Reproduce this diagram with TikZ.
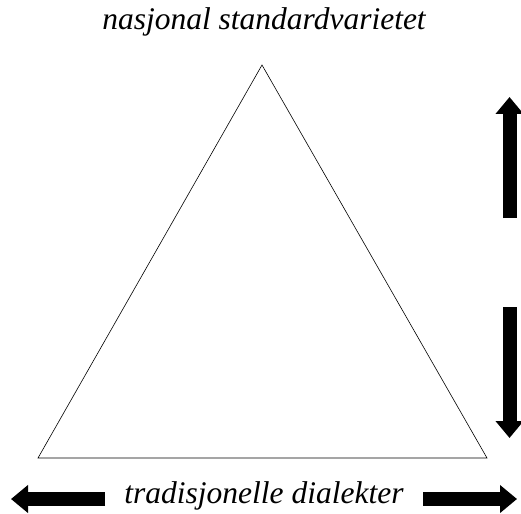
\documentclass[tikz,border=0pt]{standalone}
\usepackage{fontspec}
\setmainfont{Liberation Serif}
\usetikzlibrary{arrows.meta,positioning}

\begin{document}
\begin{tikzpicture}[x=1pt,y=-1pt,line join=miter,
>={Triangle[width=27pt,length=17pt]}]

\tikzstyle{label}=[font=\fontsize{31.5}{36}\selectfont\itshape,inner sep=0pt,anchor=base]
\tikzstyle{fat}=[line width=14pt,->]

\useasboundingbox (0,0) rectangle (521,513);

\coordinate (T) at (262,65);
\coordinate (L) at (38,458);
\coordinate (R) at (487,458);

\node[label] (top)    at (264,30)  {nasjonal standardvarietet};
\node[label] (bottom) at (264,503) {tradisjonelle dialekter};

\coordinate (up0)    at (509.5,218);
\coordinate (up1)    at (509.5,97);
\coordinate (down0)  at (509.5,307);
\coordinate (down1)  at (509.5,438);
\coordinate (left0)  at (105,499);
\coordinate (left1)  at (11,499);
\coordinate (right0) at (423,499);
\coordinate (right1) at (517,499);

\draw[semithick] (T) -- (L) -- (R) -- cycle;

\draw[fat] (up0) -- (up1);
\draw[fat] (down0) -- (down1);
\draw[fat] (left0) -- (left1);
\draw[fat] (right0) -- (right1);
\end{tikzpicture}
\end{document}
